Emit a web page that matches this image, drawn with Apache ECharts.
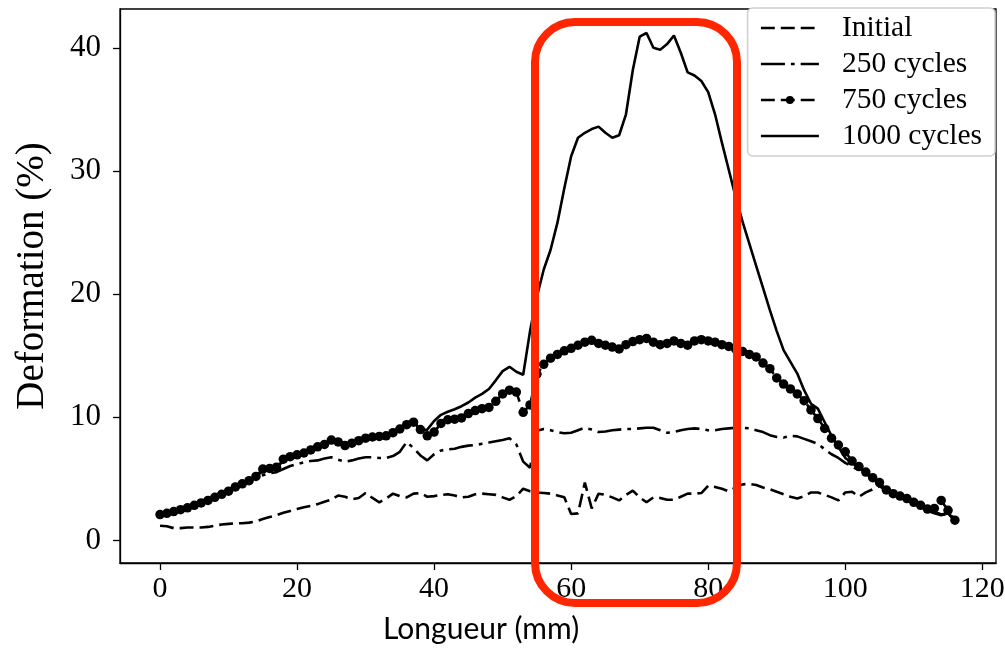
<!DOCTYPE html>
<html>
<head>
<meta charset="utf-8">
<script src="https://cdn.jsdelivr.net/npm/echarts@6/dist/echarts.min.js"></script>
<style>
html,body{margin:0;padding:0;background:#fff;}
#chart{width:1005px;height:654px;}
</style>
</head>
<body>
<div id="chart"></div>
<script>
// Longueur (mm)
const lengths = [0,1,2,3,4,5,6,7,8,9,10,11,12,13,14,15,16,17,18,19,20,21,22,23,24,25,26,27,28,29,30,31,32,33,34,35,36,37,38,39,40,41,42,43,44,45,46,47,48,49,50,51,52,53,54,55,56,57,58,59,60,61,62,63,64,65,66,67,68,69,70,71,72,73,74,75,76,77,78,79,80,81,82,83,84,85,86,87,88,89,90,91,92,93,94,95,96,97,98,99,100,101,102,103,104,105,106,107,108,109,110,111,112,113,114,115,116];

const initial = [1.2,1.15,1.0,1.0,1.05,1.05,1.05,1.1,1.2,1.3,1.35,1.4,1.4,1.45,1.55,1.75,1.9,2.05,2.25,2.4,2.55,2.7,2.8,2.95,3.15,3.3,3.65,3.55,3.35,3.45,3.85,3.45,3.1,3.4,3.8,3.6,3.5,3.8,3.85,3.55,3.6,3.7,3.75,3.65,3.5,3.55,3.75,3.8,3.75,3.7,3.5,3.3,3.6,4.2,4.0,3.9,3.85,3.8,3.65,3.5,2.15,2.2,4.7,2.6,3.8,3.7,3.5,3.25,3.7,4.05,3.5,3.1,3.5,3.45,3.3,3.3,3.55,3.8,3.8,3.85,4.45,4.35,4.2,4.0,4.3,4.55,4.6,4.5,4.3,4.15,3.95,3.75,3.55,3.4,3.6,3.9,3.9,3.7,3.5,3.25,3.9,3.95,3.55,3.9,4.15,4.4,4.05,3.8,3.6,3.4,3.1,2.85,2.5,2.3,2.1,2.2,1.65];

const cycles250 = [2.1,2.2,2.35,2.5,2.65,2.85,3.05,3.25,3.5,3.75,4.0,4.3,4.55,4.8,5.1,5.3,5.45,5.55,5.8,6.05,6.2,6.35,6.45,6.5,6.65,6.75,6.55,6.4,6.5,6.65,6.75,6.75,6.7,6.7,6.85,7.2,8.0,7.5,6.9,6.5,7.0,7.3,7.4,7.45,7.6,7.7,7.75,7.85,7.95,8.05,8.15,8.3,7.8,6.4,5.9,8.9,9.05,8.95,8.8,8.7,8.75,8.95,9.15,9.0,8.8,8.85,8.95,9.0,9.05,9.05,9.1,9.15,9.15,8.95,8.75,8.8,8.95,9.05,9.1,9.05,8.95,8.95,9.05,9.1,9.15,9.15,9.1,8.95,8.8,8.55,8.4,8.35,8.5,8.45,8.25,8.05,7.85,7.4,7.0,6.7,6.3,6.0,5.7,5.4,5.05,4.65,4.1,3.8,3.6,3.4,3.1,2.85,2.5,2.3,2.1,2.2,1.65];

const cycles750 = [2.1,2.2,2.35,2.5,2.65,2.85,3.05,3.25,3.5,3.75,4.0,4.35,4.6,4.85,5.2,5.8,5.85,5.95,6.6,6.8,6.95,7.1,7.35,7.6,7.8,8.15,8.0,7.7,7.9,8.1,8.3,8.4,8.45,8.5,8.75,9.05,9.4,9.6,9.0,8.5,8.8,9.5,9.8,9.85,9.95,10.3,10.55,10.7,10.8,11.3,11.9,12.2,12.05,10.4,11.0,13.5,14.3,14.8,15.1,15.4,15.6,15.85,16.1,16.25,16.0,15.85,15.7,15.55,15.9,16.15,16.3,16.4,16.1,15.9,16.0,16.2,16.0,15.85,16.2,16.3,16.2,16.1,15.9,15.75,15.55,15.35,15.1,14.9,14.4,13.95,13.2,12.7,12.3,11.9,11.35,10.6,9.9,9.1,8.3,7.75,7.2,6.45,6.0,5.55,5.1,4.7,4.1,3.8,3.6,3.4,3.1,2.85,2.55,2.6,3.25,2.45,1.65];

const cycles1000 = [2.1,2.2,2.35,2.5,2.7,2.9,3.1,3.3,3.55,3.8,4.05,4.4,4.65,4.9,5.25,5.6,5.75,6.0,6.4,6.8,7.0,7.15,7.4,7.65,7.85,8.2,8.05,7.8,7.95,8.15,8.35,8.45,8.5,8.6,8.85,9.15,9.55,9.75,8.9,9.0,9.7,10.2,10.45,10.65,10.9,11.2,11.6,11.9,12.3,13.0,13.75,14.1,13.7,13.45,17.0,19.8,22.0,23.6,25.8,28.6,31.2,32.7,33.1,33.4,33.6,33.1,32.7,32.9,34.6,38.2,40.9,41.2,40.0,39.85,40.3,41.0,39.6,38.0,37.75,37.3,36.4,34.6,32.3,30.1,27.9,25.9,24.1,22.3,20.5,18.7,17.0,15.45,14.5,13.55,12.2,11.1,10.7,9.6,8.5,7.6,6.7,6.3,5.9,5.5,5.1,4.6,4.1,3.8,3.6,3.4,3.05,2.8,2.4,2.2,2.05,2.2,1.65];

const seriesNames = ['Initial', '250 cycles', '750 cycles', '1000 cycles'];
const xTicks = [0, 20, 40, 60, 80, 100, 120];
const yTicks = [0, 10, 20, 30, 40];
const xTitle = 'Longueur (mm)';
const yTitle = 'Deformation (%)';

function pairs(xs, ys) { return xs.map((x, i) => [x, ys[i]]); }

const serifFont = '"Liberation Serif", "DejaVu Serif", serif';
const chart = echarts.init(document.getElementById('chart'), null, { renderer: 'canvas' });

const option = {
  animation: false,
  backgroundColor: '#ffffff',
  grid: {
    left: 120, right: 9, top: 9, bottom: 91,
    show: true, borderColor: '#000', borderWidth: 1.3,
    containLabel: false, outerBoundsMode: 'none'
  },
  xAxis: {
    type: 'value', min: -5.84, max: 122.0,
    axisLine: { show: true, onZero: false, lineStyle: { color: '#000', width: 1.3 } },
    axisTick: { show: true, inside: false, length: 7, lineStyle: { color: '#000', width: 1.3 }, customValues: xTicks },
    axisLabel: { customValues: xTicks, color: '#000', fontFamily: serifFont, fontSize: 30, margin: 11 },
    splitLine: { show: false }
  },
  yAxis: {
    type: 'value', min: -1.83, max: 43.15,
    axisLine: { show: true, onZero: false, lineStyle: { color: '#000', width: 1.3 } },
    axisTick: { show: true, inside: false, length: 7, lineStyle: { color: '#000', width: 1.3 }, customValues: yTicks },
    axisLabel: { customValues: yTicks, color: '#000', fontFamily: serifFont, fontSize: 31, margin: 19 },
    splitLine: { show: false }
  },
  legend: {
    orient: 'vertical', right: 10, top: 8,
    backgroundColor: '#fff', borderColor: '#cfcfcf', borderWidth: 1.5, borderRadius: 5,
    padding: [5, 13, 5, 12],
    itemWidth: 58, itemHeight: 10, itemGap: 6,
    lineStyle: { width: 2.6 },
    textStyle: { color: '#000', fontFamily: serifFont, fontSize: 29.5, lineHeight: 30, padding: [0, 0, 0, 18] },
    data: [
      { name: seriesNames[0], itemStyle: { opacity: 0 } },
      { name: seriesNames[1], itemStyle: { opacity: 0 } },
      { name: seriesNames[2] },
      { name: seriesNames[3], itemStyle: { opacity: 0 } }
    ]
  },
  series: [
    { name: seriesNames[0], type: 'line', data: pairs(lengths, initial), symbol: 'none',
      lineStyle: { color: '#000', width: 2.6, type: [13.9, 6] }, itemStyle: { color: '#000' } },
    { name: seriesNames[1], type: 'line', data: pairs(lengths, cycles250), symbol: 'none',
      lineStyle: { color: '#000', width: 2.6, type: [24, 6, 3.75, 6] }, itemStyle: { color: '#000' } },
    { name: seriesNames[2], type: 'line', data: pairs(lengths, cycles750), symbol: 'circle', symbolSize: 9.5,
      showSymbol: true, showAllSymbol: true,
      lineStyle: { color: '#000', width: 2.6, type: [13.9, 6] }, itemStyle: { color: '#000' } },
    { name: seriesNames[3], type: 'line', data: pairs(lengths, cycles1000), symbol: 'none',
      lineStyle: { color: '#000', width: 2.6 }, itemStyle: { color: '#000' } }
  ],
  graphic: [
    { type: 'rect', z: 100, silent: true,
      shape: { x: 535, y: 22, width: 202, height: 581, r: 40 },
      style: { fill: 'none', stroke: '#ff2600', lineWidth: 8 } },
    { type: 'text', z: 100, x: 33, y: 276, rotation: Math.PI / 2, silent: true,
      style: { text: yTitle, fill: '#000', font: '39px "Liberation Serif", serif', align: 'center', verticalAlign: 'middle' } },
    { type: 'text', z: 100, left: 383, top: 614, silent: true,
      style: { text: xTitle, fill: '#000', font: '30px Lato, "Open Sans", sans-serif' } }
  ]
};
chart.setOption(option);
</script>
</body>
</html>
